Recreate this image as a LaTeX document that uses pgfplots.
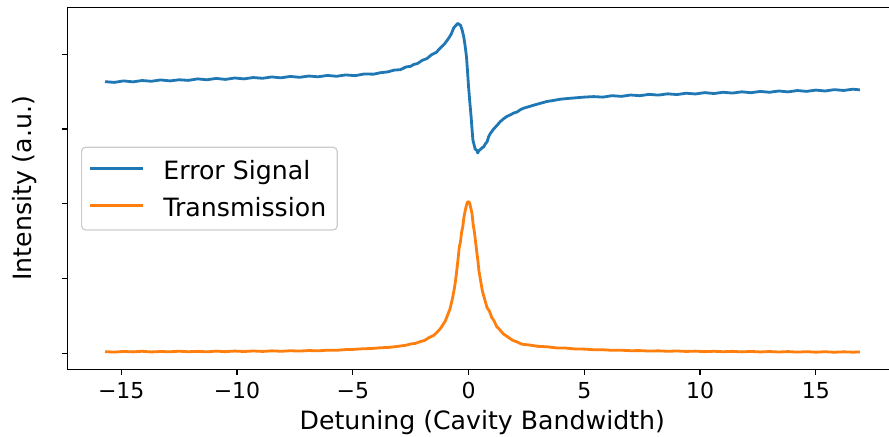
\documentclass[border=0pt]{standalone}
\usepackage{fontspec}
\setmainfont{DejaVu Sans}
\usepackage{pgfplots}
\pgfplotsset{compat=1.18}
\definecolor{cA}{HTML}{1F77B4}
\definecolor{cB}{HTML}{FF7F0E}
\begin{document}
\begin{tikzpicture}
\begin{axis}[
  at={(0,0)}, anchor=south west,
  scale only axis, width=410.85pt, height=181pt,
  xmin=-17.33, xmax=18.16, ymin=-0.214, ymax=4.63,
  axis x line*=box, axis y line*=left,
  axis line style={line width=0.63pt, black},
  xtick={-15,-10,-5,0,5,10,15},
  xticklabels={−15,−10,−5,0,5,10,15},
  ytick={0,1,2,3,4}, yticklabels={},
  xtick pos=left, ytick pos=left,
  tick align=outside,
  major tick length=2.8pt,
  major tick style={line width=0.63pt, black},
  tick label style={font=\fontsize{11}{13}\selectfont},
  xticklabel style={anchor=base, yshift=-11.7pt},
  xlabel={Detuning (Cavity Bandwidth)},
  ylabel={Intensity (a.u.)},
  label style={font=\fontsize{12.6}{15}\selectfont},
  x label style={at={(axis description cs:0.505,0)}, anchor=base, yshift=-30pt},
  y label style={at={([xshift=-17.8pt]axis description cs:0,0.5)}, anchor=base},
  legend style={at={(axis description cs:0.0167,0.615)}, anchor=north west,
    draw=black!20, line width=0.6pt, rounded corners=2pt, fill=white, fill opacity=0.8, text opacity=1,
    inner xsep=3.5pt, inner ysep=4.9pt, row sep=5.15pt,
    font=\fontsize{12.6}{15}\selectfont,
    nodes={inner sep=2pt, text height=9.2pt, text depth=0pt},
    /tikz/every odd column/.append style={column sep=7.5pt}},
  legend cell align=left,
  legend image code/.code={\draw[#1] (0pt,0.8pt) -- (26.5pt,0.8pt);},
]
\addplot[cA, line width=1.4pt, line join=round] coordinates {
(-15.7,3.635) (-15.3,3.625) (-14.9,3.645) (-14.5,3.632) (-14.1,3.650) (-13.7,3.640) (-13.3,3.658) (-12.9,3.645) (-12.5,3.660) (-12.1,3.652) (-11.7,3.672) (-11.3,3.660) (-10.9,3.678) (-10.5,3.665) (-10.1,3.684) (-9.7,3.672) (-9.3,3.690) (-8.9,3.680) (-8.5,3.698) (-8.1,3.686) (-7.7,3.705) (-7.3,3.693) (-6.9,3.710) (-6.5,3.700) (-6.1,3.718) (-5.7,3.707) (-5.3,3.725) (-4.9,3.715) (-4.5,3.738) (-4.1,3.735) (-3.8,3.755) (-3.5,3.765) (-3.2,3.79) (-2.94,3.795) (-2.7,3.832) (-2.5,3.84) (-2.37,3.865) (-2.2,3.878) (-2.0,3.92) (-1.79,3.945) (-1.6,3.995) (-1.4,4.025) (-1.22,4.085) (-1.05,4.135) (-0.86,4.215) (-0.75,4.27) (-0.64,4.355) (-0.55,4.385) (-0.47,4.415) (-0.40,4.40) (-0.35,4.39) (-0.28,4.33) (-0.21,4.24) (-0.15,4.12) (-0.09,3.97) (-0.05,3.80) (0.0,3.57) (0.05,3.38) (0.11,3.17) (0.15,3.00) (0.19,2.85) (0.24,2.79) (0.29,2.73) (0.35,2.72) (0.40,2.68) (0.44,2.71) (0.52,2.73) (0.58,2.75) (0.65,2.76) (0.72,2.80) (0.80,2.83) (0.87,2.90) (0.94,2.94) (1.08,3.00) (1.23,3.05) (1.37,3.10) (1.52,3.14) (1.66,3.17) (1.80,3.19) (1.95,3.215) (2.10,3.23) (2.24,3.26) (2.38,3.28) (2.6,3.30) (2.81,3.32) (3.1,3.345) (3.39,3.37) (3.7,3.385) (3.96,3.40) (4.3,3.41) (4.68,3.42) (5.0,3.428)
(5.4,3.435) (5.8,3.428) (6.2,3.447) (6.6,3.438) (7.0,3.456) (7.4,3.447) (7.8,3.465) (8.2,3.455) (8.6,3.472) (9.0,3.462) (9.4,3.480) (9.8,3.470) (10.2,3.488) (10.6,3.476) (11.0,3.493) (11.4,3.482) (11.8,3.499) (12.2,3.487) (12.6,3.504) (13.0,3.493) (13.4,3.510) (13.8,3.498) (14.2,3.516) (14.6,3.505) (15.0,3.522) (15.4,3.510) (15.8,3.528) (16.2,3.517) (16.6,3.534) (16.9,3.525)
};
\addlegendentry{Error Signal}
\addplot[cB, line width=1.4pt, line join=round] coordinates {
(-15.7,0.022) (-15.3,0.016) (-14.9,0.025) (-14.5,0.019) (-14.1,0.027) (-13.7,0.018) (-13.3,0.024) (-12.9,0.02) (-12.5,0.028) (-12.1,0.021) (-11.7,0.026) (-11.3,0.02) (-10.9,0.029) (-10.5,0.022) (-10.1,0.03) (-9.7,0.024) (-9.3,0.031) (-8.9,0.025) (-8.5,0.033) (-8.1,0.027) (-7.7,0.034) (-7.3,0.03) (-6.9,0.037) (-6.5,0.033) (-6.1,0.042) (-5.7,0.04) (-5.3,0.05) (-5.0,0.052) (-4.6,0.06) (-4.2,0.064) (-3.8,0.074) (-3.4,0.08) (-3.0,0.095) (-2.7,0.108) (-2.5,0.125) (-2.3,0.132) (-2.1,0.155) (-1.9,0.172) (-1.7,0.212) (-1.5,0.24) (-1.35,0.285) (-1.22,0.33) (-1.1,0.385) (-1.0,0.435) (-0.9,0.515) (-0.8,0.595) (-0.7,0.725) (-0.6,0.89) (-0.55,1.0) (-0.5,1.13) (-0.45,1.27) (-0.4,1.42) (-0.35,1.49) (-0.3,1.62) (-0.25,1.69) (-0.2,1.82) (-0.15,1.9) (-0.1,1.97) (-0.05,2.02) (0,2.03) (0.05,2.01) (0.1,1.94) (0.15,1.87) (0.2,1.72) (0.25,1.63) (0.3,1.5) (0.35,1.37) (0.4,1.25) (0.45,1.1) (0.5,1.01) (0.6,0.83) (0.7,0.72) (0.8,0.61) (0.9,0.565) (1.0,0.48) (1.1,0.435) (1.22,0.355) (1.35,0.315) (1.5,0.26) (1.7,0.218) (1.9,0.175) (2.1,0.152) (2.3,0.122) (2.6,0.112) (3.0,0.093) (3.4,0.087) (3.8,0.072) (4.2,0.07) (4.6,0.058) (5.0,0.056) (5.4,0.048) (5.8,0.047) (6.2,0.04) (6.6,0.041) (7.0,0.035) (7.4,0.036) (7.8,0.03) (8.2,0.033) (8.6,0.027) (9.0,0.031) (9.4,0.025) (9.8,0.029) (10.2,0.022) (10.6,0.027) (11.0,0.021) (11.4,0.026) (11.8,0.019) (12.2,0.025) (12.6,0.018) (13.0,0.024) (13.4,0.017) (13.8,0.023) (14.2,0.016) (14.6,0.022) (15.0,0.015) (15.4,0.021) (15.8,0.014) (16.2,0.02) (16.6,0.015) (16.9,0.018)
};
\addlegendentry{Transmission}
\end{axis}
\pgfresetboundingbox
\path[use as bounding box] (-33.65pt,-33.85pt) rectangle (410.85pt,184.65pt);
\end{tikzpicture}
\end{document}
